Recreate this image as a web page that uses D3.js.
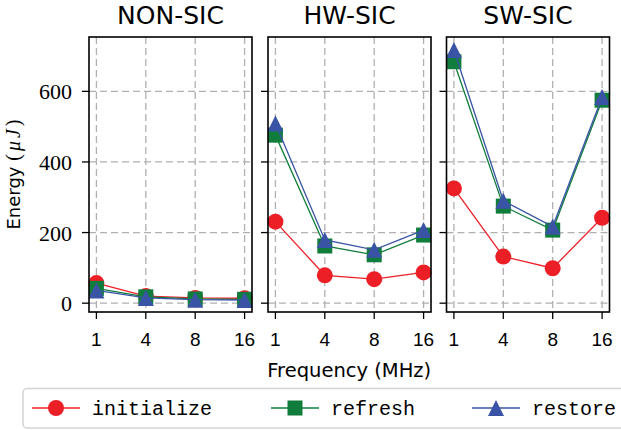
<!DOCTYPE html>
<html>
<head>
<meta charset="utf-8">
<script src="https://cdn.jsdelivr.net/npm/d3@7"></script>
<style>
  body { margin: 0; background: #fff; }
  svg { display: block; }
</style>
</head>
<body>
<div id="chart"></div>
<script>
// chart data
const groups = ["NON-SIC", "HW-SIC", "SW-SIC"];
const freqs = ["1", "4", "8", "16"];
const yTicks = [0, 200, 400, 600];

const initialize = [[57, 20, 15, 14], [231, 79, 68, 87], [325, 132, 99, 242]];
const refresh = [[42, 18, 12, 11], [476, 162, 137, 193], [684, 275, 207, 575]];
const restore = [[36, 15, 10, 9], [509, 179, 151, 207], [717, 290, 217, 584]];

const seriesNames = ["initialize", "refresh", "restore"];
const seriesColors = ["#ec1f27", "#107d3d", "#3a54a5"];
const seriesShapes = ["circle", "square", "triangle"];

const width = 621, height = 430;
const panelLeft = [89, 268, 446.5];
const panelW = 163;
const plotTop = 37, plotBottom = 312;

const svg = d3.select("#chart").append("svg")
    .attr("width", width)
    .attr("height", height);

const y = d3.scaleLinear().domain([-25, 754]).range([plotBottom, plotTop]);

const serif = "'Liberation Serif', serif";
const sans = "'DejaVu Sans', sans-serif";

function drawMarker(g, shape, cx, cy, color) {
    if (shape == "circle") {
        g.append("circle").attr("cx", cx).attr("cy", cy).attr("r", 8).attr("fill", color);
    } else if (shape == "square") {
        g.append("rect").attr("x", cx - 7.5).attr("y", cy - 7.5)
            .attr("width", 15).attr("height", 15).attr("fill", color);
    } else {
        g.append("path")
            .attr("d", `M${cx},${cy - 8}L${cx + 8},${cy + 8}L${cx - 8},${cy + 8}Z`)
            .attr("fill", color);
    }
}

const allSeries = [initialize, refresh, restore];

groups.forEach(function (name, gi) {
    const x0 = panelLeft[gi];
    const x = d3.scalePoint().domain(freqs).range([x0, x0 + panelW]).padding(0.15);
    const g = svg.append("g");

    // grid
    g.selectAll(".vgrid").data(freqs).enter().append("line")
        .attr("x1", d => x(d)).attr("x2", d => x(d))
        .attr("y1", plotTop).attr("y2", plotBottom)
        .attr("stroke", "#b0b0b0").attr("stroke-width", 1.3)
        .attr("stroke-dasharray", "7,4");
    g.selectAll(".hgrid").data(yTicks).enter().append("line")
        .attr("x1", x0).attr("x2", x0 + panelW)
        .attr("y1", d => y(d)).attr("y2", d => y(d))
        .attr("stroke", "#b0b0b0").attr("stroke-width", 1.3)
        .attr("stroke-dasharray", "7,4");

    // series
    allSeries.forEach(function (s, si) {
        const vals = s[gi];
        const line = d3.line().x((d, i) => x(freqs[i])).y(d => y(d));
        g.append("path").datum(vals)
            .attr("d", line)
            .attr("fill", "none")
            .attr("stroke", seriesColors[si])
            .attr("stroke-width", 1.3);
        vals.forEach(function (v, i) {
            drawMarker(g, seriesShapes[si], x(freqs[i]), y(v), seriesColors[si]);
        });
    });

    // frame
    g.append("rect")
        .attr("x", x0).attr("y", plotTop)
        .attr("width", panelW).attr("height", plotBottom - plotTop)
        .attr("fill", "none").attr("stroke", "#000").attr("stroke-width", 1.6);

    // x ticks
    freqs.forEach(function (f) {
        g.append("line").attr("x1", x(f)).attr("x2", x(f))
            .attr("y1", plotBottom).attr("y2", plotBottom + 7)
            .attr("stroke", "#000").attr("stroke-width", 1.3);
        g.append("text").attr("x", x(f)).attr("y", 346)
            .attr("text-anchor", "middle")
            .style("font-family", "'Liberation Sans', sans-serif")
            .style("font-size", "19px")
            .text(f);
    });

    // y ticks
    yTicks.forEach(function (t) {
        g.append("line").attr("x1", x0 - 7).attr("x2", x0)
            .attr("y1", y(t)).attr("y2", y(t))
            .attr("stroke", "#000").attr("stroke-width", 1.3);
        if (gi == 0) {
            g.append("text").attr("x", 72).attr("y", y(t) + 8)
                .attr("text-anchor", "end")
                .style("font-family", serif)
                .style("font-size", "22px")
                .text(t);
        }
    });

    // title
    g.append("text").attr("x", x0 + panelW / 2).attr("y", 24)
        .attr("text-anchor", "middle")
        .style("font-family", sans)
        .style("font-size", "25px")
        .text(name);
});

// axis labels
svg.append("text")
    .attr("x", (panelLeft[0] + panelLeft[2] + panelW) / 2).attr("y", 377)
    .attr("text-anchor", "middle")
    .style("font-family", sans)
    .style("font-size", "19.5px")
    .text("Frequency (MHz)");

const yl = svg.append("text")
    .attr("transform", `translate(20,${(plotTop + plotBottom) / 2}) rotate(-90)`)
    .attr("text-anchor", "middle")
    .style("font-size", "18px");
yl.append("tspan").style("font-family", sans).text("Energy ");
yl.append("tspan").style("font-family", serif).style("font-size", "20px")
    .style("letter-spacing", "3px").text("(");
yl.append("tspan").style("font-family", serif).style("font-size", "20px")
    .style("letter-spacing", "3px").style("font-style", "italic").text("μJ");
yl.append("tspan").style("font-family", serif).style("font-size", "20px").text(")");

// legend
const leg = svg.append("g");
leg.append("rect")
    .attr("x", 23).attr("y", 388.5).attr("width", 630).attr("height", 39.5)
    .attr("rx", 4)
    .attr("fill", "#fff").attr("stroke", "#d4d4d4").attr("stroke-width", 1.5);
const legX = [32, 271, 472];
seriesNames.forEach(function (n, i) {
    const lx = legX[i];
    leg.append("line").attr("x1", lx).attr("x2", lx + 48)
        .attr("y1", 408).attr("y2", 408)
        .attr("stroke", seriesColors[i]).attr("stroke-width", 1.3);
    drawMarker(leg, seriesShapes[i], lx + 24, 408, seriesColors[i]);
    leg.append("text").attr("x", lx + 60).attr("y", 414.5)
        .style("font-family", "'Liberation Mono', monospace")
        .style("font-size", "20px")
        .text(n);
});
</script>
</body>
</html>
